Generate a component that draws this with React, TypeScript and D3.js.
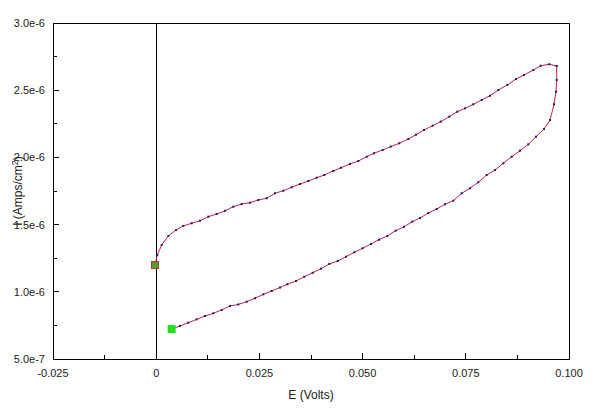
import React from "react";
import * as d3 from "d3";

// E (V) and I (in units of 1e-6 A/cm²), in scan order
const potentialVolts = [
  0.00375, 0.00577, 0.00778, 0.00981, 0.01182, 0.01383, 0.01587, 0.01788, 0.01989, 0.02192,
  0.02393, 0.02594, 0.02798, 0.03000, 0.03176, 0.03387, 0.03588, 0.03791, 0.03992, 0.04193,
  0.04397, 0.04598, 0.04799, 0.05002, 0.05203, 0.05397, 0.05598, 0.05802, 0.06003, 0.06204,
  0.06390, 0.06592, 0.06795, 0.06996, 0.07197, 0.07401, 0.07602, 0.07803, 0.08006, 0.08207,
  0.08408, 0.08612, 0.08813, 0.09014, 0.09201, 0.09394, 0.09540, 0.09637, 0.09685, 0.09702,
  0.09702,
  0.09523, 0.09314, 0.09135, 0.08910, 0.08716, 0.08505, 0.08287, 0.08086, 0.07885, 0.07682,
  0.07481, 0.07294, 0.07100, 0.06892, 0.06698, 0.06487, 0.06294, 0.06107, 0.05889, 0.05681,
  0.05487, 0.05276, 0.05099, 0.04896, 0.04695, 0.04477, 0.04290, 0.04072, 0.03888, 0.03685,
  0.03484, 0.03282, 0.03079, 0.02878, 0.02677, 0.02473, 0.02272, 0.02071, 0.01868, 0.01667,
  0.01466, 0.01262, 0.01061, 0.00860, 0.00656, 0.00480, 0.00293, 0.00133, 0.00027, -0.00029,
];
const currentMicroAmps = [
  0.723, 0.746, 0.770, 0.795, 0.820, 0.840, 0.865, 0.894, 0.906, 0.926,
  0.952, 0.981, 1.006, 1.032, 1.056, 1.080, 1.112, 1.142, 1.172, 1.207,
  1.229, 1.261, 1.294, 1.324, 1.356, 1.388, 1.415, 1.455, 1.484, 1.522,
  1.549, 1.586, 1.616, 1.651, 1.678, 1.733, 1.770, 1.815, 1.869, 1.906,
  1.956, 2.005, 2.050, 2.097, 2.154, 2.211, 2.278, 2.395, 2.489, 2.576,
  2.680,
  2.693, 2.682, 2.650, 2.613, 2.583, 2.539, 2.501, 2.459, 2.427, 2.395,
  2.365, 2.340, 2.303, 2.266, 2.236, 2.204, 2.169, 2.137, 2.105, 2.080,
  2.055, 2.031, 2.005, 1.973, 1.951, 1.923, 1.899, 1.869, 1.849, 1.824,
  1.802, 1.778, 1.752, 1.733, 1.696, 1.683, 1.663, 1.653, 1.633, 1.603,
  1.579, 1.559, 1.529, 1.510, 1.490, 1.460, 1.415, 1.348, 1.274, 1.199,
];

const xTicks = [-0.025, 0, 0.025, 0.05, 0.075, 0.1];
const xTickLabels = ["-0.025", "0", "0.025", "0.050", "0.075", "0.100"];
const xMinorTicks = [-0.0125, 0.0125, 0.0375, 0.0625, 0.0875];
const yTicks = [0.5, 1.0, 1.5, 2.0, 2.5, 3.0];
const yTickLabels = ["5.0e-7", "1.0e-6", "1.5e-6", "2.0e-6", "2.5e-6", "3.0e-6"];
const yMinorTicks = [0.75, 1.25, 1.75, 2.25, 2.75];

const W = 595, H = 414;
const L = 53, R = 569, T = 23, B = 359;
const FONT = "Liberation Sans, Arial, sans-serif";

export default function App() {
  const x = d3.scaleLinear().domain([-0.025, 0.1]).range([L, R]);
  const y = d3.scaleLinear().domain([0.5, 3.0]).range([B, T]);
  const pts = potentialVolts.map((e, i) => [e, currentMicroAmps[i]] as [number, number]);
  const line = d3.line<[number, number]>().x(d => x(d[0])).y(d => y(d[1]));
  const first = pts[0];
  const last = pts[pts.length - 1];

  return (
    <svg width={W} height={H} style={{ position: "absolute", left: 0, top: 0, background: "#fff" }}>
      <rect x={0} y={0} width={W} height={H} fill="#fff" />
      {/* frame */}
      <rect x={L} y={T} width={R - L} height={B - T} fill="none" stroke="#000" strokeWidth={1} shapeRendering="crispEdges" />
      {/* zero line */}
      <line x1={x(0)} x2={x(0)} y1={T} y2={B} stroke="#000" strokeWidth={1} shapeRendering="crispEdges" />
      {/* x ticks */}
      {xTicks.map((t, i) => (
        <g key={"xt" + i}>
          <line x1={x(t)} x2={x(t)} y1={B} y2={B - 6} stroke="#000" shapeRendering="crispEdges" />
          <text x={x(t)} y={B + 18} textAnchor="middle" fontFamily={FONT} fontSize={11} fill="#222">{xTickLabels[i]}</text>
        </g>
      ))}
      {xMinorTicks.map((t, i) => (
        <line key={"xm" + i} x1={x(t)} x2={x(t)} y1={B} y2={B - 4} stroke="#000" shapeRendering="crispEdges" />
      ))}
      {/* y ticks */}
      {yTicks.map((t, i) => (
        <g key={"yt" + i}>
          <line x1={L} x2={L + 6} y1={y(t)} y2={y(t)} stroke="#000" shapeRendering="crispEdges" />
          <text x={45} y={y(t) + 4} textAnchor="end" fontFamily={FONT} fontSize={11} fill="#222">{yTickLabels[i]}</text>
        </g>
      ))}
      {yMinorTicks.map((t, i) => (
        <line key={"ym" + i} x1={L} x2={L + 4} y1={y(t)} y2={y(t)} stroke="#000" shapeRendering="crispEdges" />
      ))}
      {/* axis titles */}
      <text x={311} y={399} textAnchor="middle" fontFamily={FONT} fontSize={12} fill="#222">E (Volts)</text>
      <text transform="translate(22,191) rotate(-90)" textAnchor="middle" fontFamily={FONT} fontSize={12} fill="#222">
        I (Amps/cm<tspan fontSize={9} dy={-4}>2</tspan><tspan dy={4}>)</tspan>
      </text>
      {/* curve */}
      <path d={line(pts) || ""} fill="none" stroke="#c02050" strokeWidth={1} />
      {pts.map((p, i) => (
        <rect key={"m" + i} x={x(p[0]) - 1} y={y(p[1]) - 1} width={2} height={2} fill="#2a1a5a" />
      ))}
      {/* start / end markers */}
      <rect x={x(first[0]) - 4} y={y(first[1]) - 4} width={8} height={8} fill="#22dd22" />
      <rect x={x(last[0]) - 3.5} y={y(last[1]) - 3.5} width={7} height={7} fill="#5a9a30" stroke="#a84030" strokeWidth={1} />
    </svg>
  );
}
